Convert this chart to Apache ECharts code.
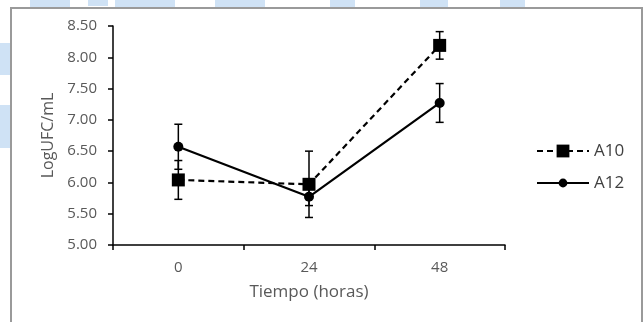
<!DOCTYPE html>
<html><head><meta charset="utf-8">
<script src="https://cdn.jsdelivr.net/npm/echarts@6/dist/echarts.min.js"></script>
<style>html,body{margin:0;padding:0;background:#fff}#c{width:644px;height:322px}</style>
</head><body><div id="c"></div>
<script>
const categories = ['0', '24', '48'];
const a10Values = [6.04, 5.97, 8.19];
const a10Errors = [0.31, 0.53, 0.22];
const a12Values = [6.57, 5.77, 7.27];
const a12Errors = [0.36, 0.14, 0.31];
const yTicks = [5.0, 5.5, 6.0, 6.5, 7.0, 7.5, 8.0, 8.5];

const chart = echarts.init(document.getElementById('c'), null, {renderer: 'canvas'});
const font = '"Open Sans", "Liberation Sans", sans-serif';

function errData(vals, errs) {
  return vals.map((v, i) => [i, v - errs[i], v + errs[i]]);
}
function errRender(params, api) {
  const x = api.value(0);
  const lo = api.coord([x, api.value(1)]);
  const hi = api.coord([x, api.value(2)]);
  const w = 4;
  const st = {stroke: '#000', lineWidth: 1.5};
  return {type: 'group', children: [
    {type: 'line', shape: {x1: lo[0], y1: lo[1], x2: hi[0], y2: hi[1]}, style: st},
    {type: 'line', shape: {x1: lo[0]-w, y1: lo[1], x2: lo[0]+w, y2: lo[1]}, style: st},
    {type: 'line', shape: {x1: hi[0]-w, y1: hi[1], x2: hi[0]+w, y2: hi[1]}, style: st}
  ]};
}

const blue = '#cfe2f5';
const blobs = [[30,0,40,7],[88,0,20,6],[115,0,60,7],[215,0,50,7],[330,0,25,7],[420,0,28,7],[500,0,25,7],[0,43,10,32],[0,105,10,43]];

chart.setOption({
  backgroundColor: '#fff',
  animation: false,
  graphic: [
    ...blobs.map(b => ({type: 'rect', shape: {x: b[0], y: b[1], width: b[2], height: b[3]}, style: {fill: blue}, silent: true, z: -10})),
    {type: 'rect', shape: {x: 11, y: 8, width: 631, height: 330}, style: {fill: 'none', stroke: '#9a9a9a', lineWidth: 2}, silent: true, z: -5}
  ],
  grid: {left: 113, right: 139, top: 26, bottom: 77},
  legend: [
    {data: ['A10'], orient: 'vertical', left: 536, top: 141, padding: 0, itemWidth: 52, itemHeight: 16,
     textStyle: {fontFamily: font, fontSize: 17, lineHeight: 20, color: '#404040'}},
    {data: ['A12'], orient: 'vertical', left: 536, top: 173, padding: 0, itemWidth: 52, itemHeight: 11,
     textStyle: {fontFamily: font, fontSize: 17, lineHeight: 20, color: '#404040'}}
  ],
  xAxis: {
    type: 'category', data: categories, boundaryGap: true,
    name: 'Tiempo (horas)', nameLocation: 'middle', nameGap: 39,
    nameTextStyle: {fontFamily: font, fontSize: 17, color: '#595959'},
    axisLine: {lineStyle: {color: '#000', width: 1.5}},
    axisTick: {show: true, length: 5, inside: false, lineStyle: {color: '#000', width: 1.5}},
    axisLabel: {fontFamily: font, fontSize: 15, color: '#595959', margin: 15},
    splitLine: {show: false}
  },
  yAxis: {
    type: 'value', min: yTicks[0], max: yTicks[yTicks.length-1], interval: 0.5,
    name: 'LogUFC/mL', nameLocation: 'middle', nameGap: 56, nameRotate: 90,
    nameTextStyle: {fontFamily: font, fontSize: 16, color: '#595959'},
    axisLine: {show: true, lineStyle: {color: '#000', width: 1.5}},
    axisTick: {show: true, length: 5, inside: false, lineStyle: {color: '#000', width: 1.5}},
    axisLabel: {fontFamily: font, fontSize: 15, color: '#595959', margin: 16, formatter: v => v.toFixed(2)},
    splitLine: {show: false}
  },
  series: [
    {name: 'A10', type: 'line', data: a10Values, symbol: 'rect', symbolSize: 13,
     lineStyle: {color: '#000', width: 2.2, type: [6, 4]}, itemStyle: {color: '#000'}, z: 3},
    {name: 'A12', type: 'line', data: a12Values, symbol: 'circle', symbolSize: 10,
     lineStyle: {color: '#000', width: 2.2, type: 'solid'}, itemStyle: {color: '#000'}, z: 3},
    {name: 'errA10', type: 'custom', renderItem: errRender, data: errData(a10Values, a10Errors), z: 2},
    {name: 'errA12', type: 'custom', renderItem: errRender, data: errData(a12Values, a12Errors), z: 2}
  ]
});
</script></body></html>
